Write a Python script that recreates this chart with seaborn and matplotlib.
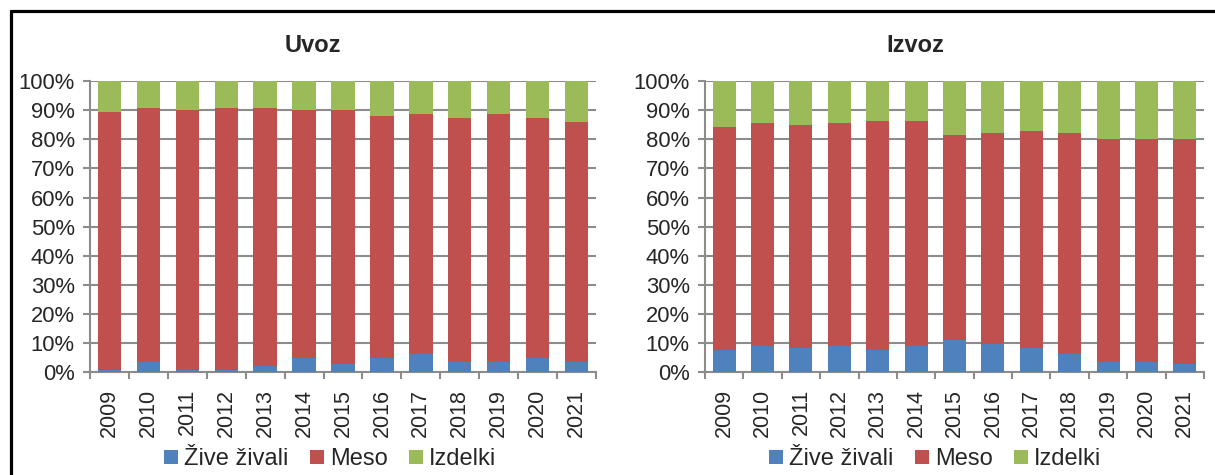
import matplotlib
matplotlib.use("Agg")
import matplotlib.pyplot as plt
from matplotlib.lines import Line2D
from matplotlib.patches import Patch
import seaborn as sns
import pandas as pd
import numpy as np

years = [str(y) for y in range(2009, 2022)]
series_names = ["Žive živali", "Meso", "Izdelki"]
colors = ["#4F81BD", "#C0504D", "#9BBB59"]
yticks_labels = ["0%", "10%", "20%", "30%", "40%", "50%", "60%", "70%", "80%", "90%", "100%"]

uvoz_zive = [0.9, 3.6, 0.9, 0.9, 2.3, 5.0, 3.0, 5.0, 6.4, 3.6, 3.6, 5.0, 3.6]
uvoz_meso = [88.6, 87.2, 89.3, 89.9, 88.5, 85.2, 87.2, 83.1, 82.4, 83.8, 85.2, 82.4, 82.4]
uvoz_izdelki = [10.5, 9.2, 9.8, 9.2, 9.2, 9.8, 9.8, 11.9, 11.2, 12.6, 11.2, 12.6, 14.0]

izvoz_zive = [7.8, 9.1, 8.4, 9.1, 7.8, 9.1, 11.2, 9.8, 8.4, 6.4, 3.6, 3.6, 2.9]
izvoz_meso = [76.4, 76.5, 76.5, 76.5, 78.5, 77.2, 70.3, 72.4, 74.5, 75.8, 76.5, 76.5, 77.2]
izvoz_izdelki = [15.8, 14.4, 15.1, 14.4, 13.7, 13.7, 18.5, 17.8, 17.1, 17.8, 19.9, 19.9, 19.9]

sns.set_style("white")
plt.rcParams["font.family"] = ["Liberation Sans", "DejaVu Sans"]

W, H = 1215, 475
fig = plt.figure(figsize=(W / 100, H / 100), dpi=100)

grid_col = "#8C8C8C"


def px_axes(x0, x1, ytop, ybot):
    return fig.add_axes([x0 / W, 1 - ybot / H, (x1 - x0) / W, (ybot - ytop) / H])


def draw_panel(ax, zive, meso, izdelki):
    df = pd.DataFrame({"year": years, "zive": zive, "meso": meso, "izdelki": izdelki})
    df["c1"] = df["zive"]
    df["c2"] = df["zive"] + df["meso"]
    df["c3"] = df["c2"] + df["izdelki"]
    for col, c in zip(["c3", "c2", "c1"], colors[::-1]):
        sns.barplot(data=df, x="year", y=col, color=c, width=0.6, ax=ax,
                    saturation=1, edgecolor="none", linewidth=0, zorder=3)
    ax.set_ylim(0, 100)
    ax.set_xlim(-0.5, len(years) - 0.5)
    ax.set_yticks(np.arange(0, 101, 10))
    ax.set_yticklabels(yticks_labels)
    ax.set_xlabel("")
    ax.set_ylabel("")
    ax.yaxis.grid(True, color=grid_col, linewidth=1.5, zorder=0)
    ax.set_axisbelow(True)
    for s in ["top", "right"]:
        ax.spines[s].set_visible(False)
    for s in ["left", "bottom"]:
        ax.spines[s].set_color(grid_col)
        ax.spines[s].set_linewidth(1.5)
    ax.tick_params(axis="y", length=5, width=1.5, color=grid_col, labelsize=15.8, pad=6, left=True)
    ax.tick_params(axis="x", which="major", length=0, labelsize=15.5, pad=12, rotation=90)
    ax.set_xticks(np.arange(-0.5, len(years), 1), minor=True)
    ax.tick_params(axis="x", which="minor", length=5, width=1.5, color=grid_col, bottom=True)


ax1 = px_axes(90, 596, 81, 372.3)
ax2 = px_axes(705, 1204, 81, 372.3)
draw_panel(ax1, uvoz_zive, uvoz_meso, uvoz_izdelki)
draw_panel(ax2, izvoz_zive, izvoz_meso, izvoz_izdelki)

fig.text(313 / W, 1 - 45 / H, "Uvoz", ha="center", va="center", fontsize=17, fontweight="bold")
fig.text(915 / W, 1 - 45 / H, "Izvoz", ha="center", va="center", fontsize=17, fontweight="bold")

handles = [Patch(facecolor=c, edgecolor="none") for c in colors]
for cx in (330, 935):
    fig.legend(handles, series_names, loc="center", bbox_to_anchor=(cx / W, 1 - 459 / H),
               ncol=3, frameon=False, fontsize=17, handlelength=0.6, handleheight=0.55,
               handletextpad=0.25, columnspacing=0.9, borderpad=0, borderaxespad=0)

# outer frame (top and left edges visible)
fig.add_artist(Line2D([11 / W, 1.0], [1 - 10.5 / H, 1 - 10.5 / H], color="black", lw=2.3,
                      transform=fig.transFigure))
fig.add_artist(Line2D([11 / W, 11 / W], [0, 1 - 10.5 / H], color="black", lw=2.3,
                      transform=fig.transFigure))

fig.savefig("out.png", dpi=100)
